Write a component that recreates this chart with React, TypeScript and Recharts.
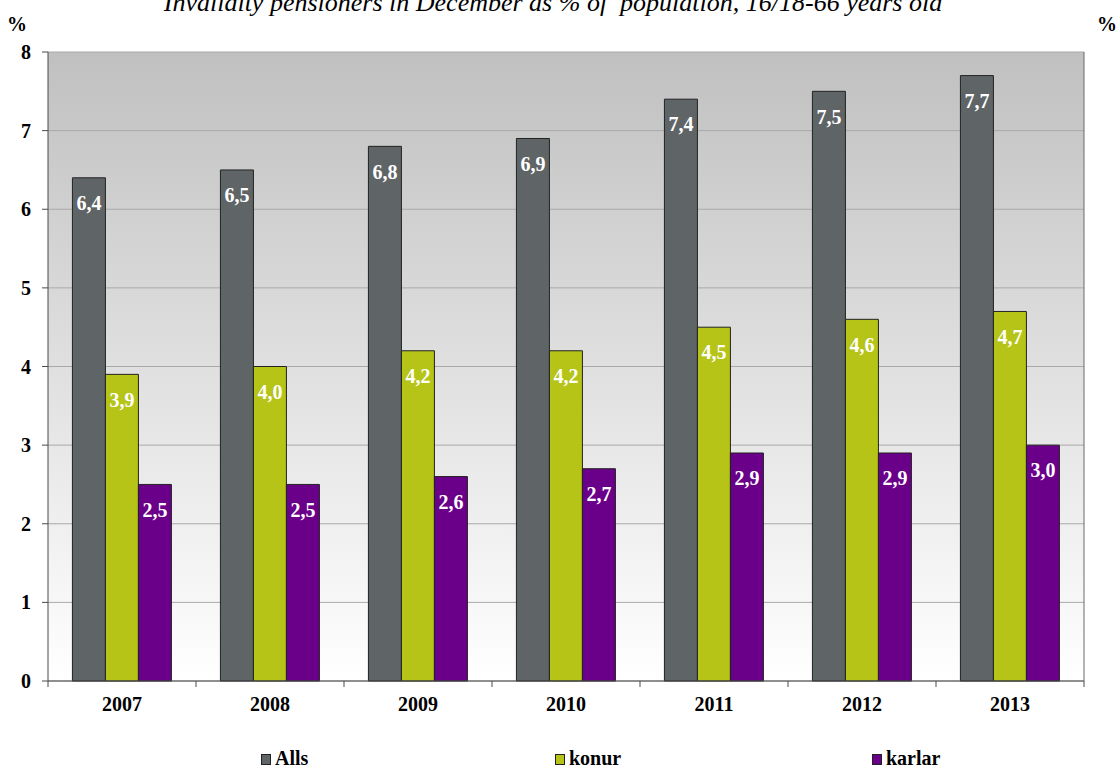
import React from 'react';
import { BarChart, Bar, XAxis, YAxis, CartesianGrid, Legend, LabelList } from 'recharts';

// values
const years = ['2007', '2008', '2009', '2010', '2011', '2012', '2013'];
const alls = [6.4, 6.5, 6.8, 6.9, 7.4, 7.5, 7.7];
const konur = [3.9, 4.0, 4.2, 4.2, 4.5, 4.6, 4.7];
const karlar = [2.5, 2.5, 2.6, 2.7, 2.9, 2.9, 3.0];
const yTicks = [0, 1, 2, 3, 4, 5, 6, 7, 8];
const yDomain: [number, number] = [0, 8];

const series = [
  { key: 'alls', name: 'Alls', color: '#5f6466' },
  { key: 'konur', name: 'konur', color: '#b6c418' },
  { key: 'karlar', name: 'karlar', color: '#6a008a' },
];
const legendLeft = [261, 555, 872];

const data = years.map((year, i) => ({
  year,
  alls: alls[i],
  konur: konur[i],
  karlar: karlar[i],
}));

const FONT = '"Liberation Serif", "Times New Roman", serif';
const AXIS = '#4a4a4a';
const X_GAP = 16;
const tickStyle = { fill: '#000', fontSize: 20, fontWeight: 'bold' as const, fontFamily: FONT };
const rightTickStyle = { ...tickStyle, textAnchor: 'start' as const };
const axisStroke = { stroke: AXIS };
const rightAxisStroke = { stroke: '#6a6a6a' };

const fmt = (v: number) => v.toFixed(1).replace('.', ',');

// year label plus the small tick marks that sit between the categories
const YearTick = (props: any) => {
  const { x, y, payload, index, width, visibleTicksCount } = props;
  const count = visibleTicksCount || years.length;
  const half = Number(width) / count / 2;
  const axisY = y - X_GAP;
  return (
    <g>
      <line x1={x - half} x2={x - half} y1={axisY} y2={axisY + 6} stroke={AXIS} />
      {index === count - 1 && <line x1={x + half} x2={x + half} y1={axisY} y2={axisY + 6} stroke={AXIS} />}
      <text x={x} y={y} dy="0.71em" textAnchor="middle" {...tickStyle}>
        {payload.value}
      </text>
    </g>
  );
};

const LegendBox = () => (
  <div style={{ position: 'relative', width: 1117, height: 40, fontFamily: FONT }}>
    {series.map((s, i) => (
      <div
        key={s.key}
        style={{
          position: 'absolute',
          left: legendLeft[i],
          top: 19,
          display: 'flex',
          alignItems: 'center',
          lineHeight: '20px',
          fontSize: 20,
          fontWeight: 'bold',
          color: '#000',
        }}
      >
        <span
          style={{
            display: 'inline-block',
            width: 8,
            height: 9,
            background: s.color,
            border: '1px solid #222',
            marginRight: 4,
            marginTop: 2,
          }}
        />
        <span>{s.name}</span>
      </div>
    ))}
  </div>
);

const renderLegend = () => <LegendBox />;
const legendWrap = { left: 0, width: 1117 };

export default function App() {
  return (
    <div style={{ position: 'absolute', left: 0, top: 0, width: 1117, height: 769, background: '#fff', overflow: 'hidden' }}>
      <div
        style={{
          position: 'absolute',
          top: -10,
          left: 0,
          width: 1106,
          textAlign: 'center',
          fontFamily: FONT,
          fontStyle: 'italic',
          fontSize: 26,
          lineHeight: '26px',
          color: '#000',
          whiteSpace: 'pre',
        }}
      >
        {'Invalidity pensioners in December as % of  population, 16/18-66 years old'}
      </div>
      <div style={{ position: 'absolute', left: 7, top: 14, fontFamily: FONT, fontWeight: 'bold', fontSize: 20, lineHeight: '20px' }}>%</div>
      <div style={{ position: 'absolute', left: 1097, top: 14, fontFamily: FONT, fontWeight: 'bold', fontSize: 20, lineHeight: '20px' }}>%</div>
      <BarChart
        width={1117}
        height={769}
        data={data}
        margin={{ top: 52, right: 0, bottom: 0, left: 0 }}
        barCategoryGap="16.5%"
        barGap={0}
      >
        <defs>
          <linearGradient id="bg" x1="0" y1="0" x2="0" y2="1">
            <stop offset="0%" stopColor="#c0c0c0" />
            <stop offset="100%" stopColor="#ffffff" />
          </linearGradient>
        </defs>
        <CartesianGrid
          yAxisId="left"
          vertical={false}
          stroke="#a9a9a9"
          fill="url(#bg)"
          fillOpacity={1}
        />
        <XAxis
          dataKey="year"
          height={48}
          axisLine={axisStroke}
          tickLine={false}
          tickSize={0}
          tickMargin={X_GAP}
          tick={YearTick}
        />
        <YAxis
          yAxisId="left"
          width={48}
          domain={yDomain}
          ticks={yTicks}
          tickSize={6}
          tickMargin={11}
          tick={tickStyle}
          tickLine={axisStroke}
          axisLine={axisStroke}
        />
        <YAxis
          yAxisId="right"
          orientation="right"
          width={33}
          domain={yDomain}
          ticks={yTicks}
          tickSize={6}
          tickMargin={12}
          tick={rightTickStyle}
          tickLine={axisStroke}
          axisLine={rightAxisStroke}
        />
        <Legend verticalAlign="bottom" content={renderLegend} wrapperStyle={legendWrap} />
        {series.map((s) => (
          <Bar
            key={s.key}
            dataKey={s.key}
            name={s.name}
            yAxisId="left"
            fill={s.color}
            stroke="#222"
            strokeWidth={1}
            isAnimationActive={false}
          >
            <LabelList
              dataKey={s.key}
              position="insideTop"
              offset={18}
              formatter={(v: any) => fmt(Number(v))}
              fill="#fff"
              fontSize={20}
              fontWeight="bold"
              fontFamily={FONT}
            />
          </Bar>
        ))}
      </BarChart>
    </div>
  );
}
